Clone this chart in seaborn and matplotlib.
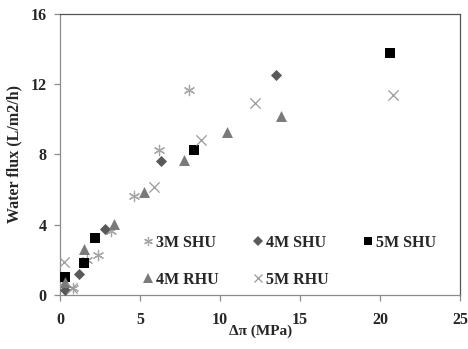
import matplotlib
matplotlib.use("Agg")
import matplotlib.pyplot as plt
import seaborn as sns
import pandas as pd
from matplotlib.lines import Line2D

# ---- data ----
series_names = ["3M SHU", "4M SHU", "5M SHU", "4M RHU", "5M RHU"]

x_3m_shu = [0.1, 0.8, 1.65, 2.35, 3.15, 4.63, 6.2, 8.03]
y_3m_shu = [0.55, 0.4, 2.0, 2.27, 3.62, 5.64, 8.28, 11.69]

x_4m_shu = [0.3, 1.15, 2.8, 6.28, 13.5]
y_4m_shu = [0.3, 1.2, 3.73, 7.6, 12.5]

x_5m_shu = [0.3, 1.5, 2.15, 8.35, 20.6]
y_5m_shu = [1.0, 1.8, 3.22, 8.24, 13.77]

x_4m_rhu = [0.3, 1.5, 3.35, 5.25, 7.75, 10.4, 13.8]
y_4m_rhu = [0.75, 2.6, 4.05, 5.87, 7.7, 9.3, 10.2]

x_5m_rhu = [0.2, 0.75, 5.86, 8.78, 12.2, 20.8]
y_5m_rhu = [1.9, 0.38, 6.15, 8.8, 10.95, 11.4]

x_ticks = [0, 5, 10, 15, 20, 25]
y_ticks = [0, 4, 8, 12, 16]

data = {
    "3M SHU": (x_3m_shu, y_3m_shu),
    "4M SHU": (x_4m_shu, y_4m_shu),
    "5M SHU": (x_5m_shu, y_5m_shu),
    "4M RHU": (x_4m_rhu, y_4m_rhu),
    "5M RHU": (x_5m_rhu, y_5m_rhu),
}

# ---- styles ----
styles = {
    "3M SHU": dict(marker=(6, 2, 0), color="#a6a6a6", s=55, lw=0.9),
    "4M SHU": dict(marker="D", color="#595959", s=32, lw=0),
    "5M SHU": dict(marker="s", color="#000000", s=52, lw=0),
    "4M RHU": dict(marker="^", color="#7a7a7a", s=62, lw=0),
    "5M RHU": dict(marker="x", color="#9a9a9a", s=55, lw=0.9),
}

sns.set_style("white")
plt.rcParams["font.family"] = ["Liberation Serif", "DejaVu Serif"]
plt.rcParams["font.weight"] = "bold"

fig = plt.figure(figsize=(4.68, 3.49), dpi=100)
ax = fig.add_axes([0.129, 0.155, 0.854, 0.805])

for name in series_names:
    xs, ys = data[name]
    df = pd.DataFrame({"x": xs, "y": ys})
    st = styles[name]
    sns.scatterplot(data=df, x="x", y="y", ax=ax, marker=st["marker"],
                    color=st["color"], s=st["s"], linewidth=st["lw"],
                    edgecolor=st["color"] if st["lw"] == 0 else None,
                    zorder=3, legend=False)

ax.set_xlim(0, 25)
ax.set_ylim(0, 16)
ax.set_xticks(x_ticks)
ax.set_yticks(y_ticks)
ax.set_xticklabels([str(t) for t in x_ticks], fontsize=11.5, fontweight="bold")
ax.set_yticklabels([str(t) for t in y_ticks], fontsize=11.5, fontweight="bold")
ax.set_xlabel("Δπ (MPa)", fontsize=11, fontweight="bold", labelpad=-2)
ax.set_ylabel("Water flux (L/m2/h)", fontsize=11.5, fontweight="bold", labelpad=6)

for side in ["left", "bottom"]:
    ax.spines[side].set_color("#8c8c8c")
    ax.spines[side].set_linewidth(0.9)
for side in ["top", "right"]:
    ax.spines[side].set_color("#555555")
    ax.spines[side].set_linewidth(0.9)
    ax.spines[side].set_visible(True)

ax.tick_params(axis="both", direction="out", length=4, width=0.9,
               color="#8c8c8c")
ax.tick_params(axis="x", bottom=True, pad=8)
ax.tick_params(axis="y", left=True, pad=6)

# legend: order so that rows read 3M SHU, 4M SHU, 5M SHU / 4M RHU, 5M RHU
order = ["3M SHU", "4M RHU", "4M SHU", "5M RHU", "5M SHU"]
handles = []
for name in order:
    st = styles[name]
    ms = (st["s"] ** 0.5) * 0.85
    handles.append(Line2D([], [], linestyle="none", marker=st["marker"],
                          color=st["color"], markersize=ms,
                          markeredgewidth=st["lw"] if st["lw"] else 0.0,
                          label=name))
leg = ax.legend(handles=handles, ncol=3, frameon=False,
                loc="lower left", bbox_to_anchor=(0.172, -0.025),
                handlelength=0.6, handletextpad=0.2, columnspacing=2.15,
                labelspacing=1.3, prop={"family": "Liberation Serif",
                                        "weight": "bold", "size": 11.5})

fig.savefig("out.png", dpi=100)
